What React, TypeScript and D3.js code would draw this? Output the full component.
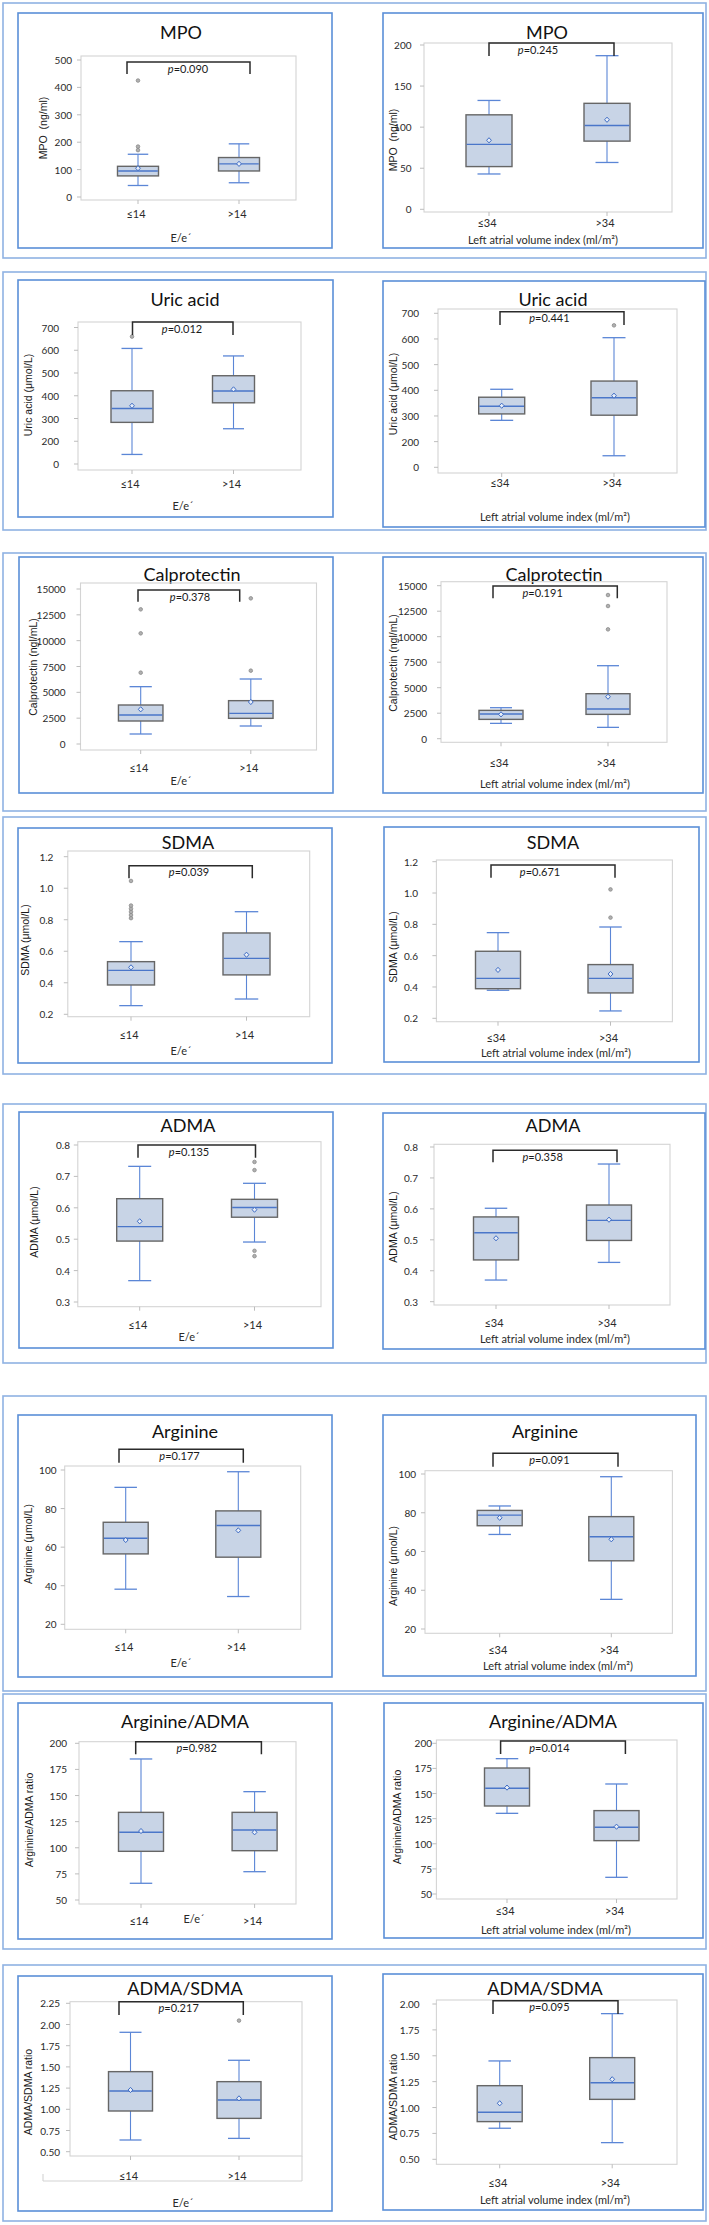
import React from "react";
import * as d3 from "d3";

// ---------------- DATA ----------------
const biomarkers = ["MPO", "Uric acid", "Calprotectin", "SDMA", "ADMA", "Arginine", "Arginine/ADMA", "ADMA/SDMA"];
const yAxisTitles = ["MPO  (ng/ml)", "Uric acid (μmol/L)", "Calprotectin (ngl/mL)", "SDMA (μmol/L)", "ADMA (μmol/L)", "Arginine (μmol/L)", "Arginine/ADMA ratio", "ADMA/SDMA ratio"];
const eeGroups = ["≤14", ">14"];
const laviGroups = ["≤34", ">34"];
const eeAxisTitle = "E/e´";
const laviAxisTitle = "Left atrial volume index (ml/m²)";
const pValuesEE = ["0.090", "0.012", "0.378", "0.039", "0.135", "0.177", "0.982", "0.217"];
const pValuesLAVI = ["0.245", "0.441", "0.191", "0.671", "0.358", "0.091", "0.014", "0.095"];

// box stats: [lower whisker, Q1, median, Q3, upper whisker, mean]
const mpoEE = [[42, 77, 95, 112, 156, 105], [52, 95, 121, 144, 194, 121]];
const mpoEEOut = [[171, 184, 425], []];
const mpoLAVI = [[43, 52, 79, 115, 132.5, 84], [57, 83, 102, 129, 187, 109]];
const mpoLAVIOut = [[], []];

const uricEE = [[142, 283, 344, 422, 608, 356], [255, 369, 421, 488, 575, 428]];
const uricEEOut = [[660], []];
const uricLAVI = [[283, 308, 338, 373, 404, 340], [145, 303, 371, 436, 605, 379]];
const uricLAVIOut = [[], [653]];

const calEE = [[968, 2226, 2806, 3774, 5548, 3355], [1742, 2484, 2968, 4194, 6290, 4065]];
const calEEOut = [[6903, 10710, 13032], [7097, 14097]];
const calLAVI = [[1503, 1895, 2418, 2778, 3039, 2386], [1111, 2386, 2908, 4412, 7157, 4118]];
const calLAVIOut = [[], [10719, 13007, 14085]];

const sdmaEE = [[0.255, 0.386, 0.479, 0.534, 0.661, 0.498], [0.297, 0.45, 0.555, 0.716, 0.851, 0.578]];
const sdmaEEOut = [[0.81, 0.83, 0.85, 0.87, 0.89, 1.046], []];
const sdmaLAVI = [[0.379, 0.389, 0.455, 0.628, 0.747, 0.509], [0.247, 0.362, 0.455, 0.543, 0.783, 0.483]];
const sdmaLAVIOut = [[], [0.843, 1.023]];

const admaEE = [[0.368, 0.494, 0.54, 0.629, 0.732, 0.557], [0.491, 0.57, 0.601, 0.627, 0.678, 0.594]];
const admaEEOut = [[], [0.446, 0.463, 0.72, 0.746]];
const admaLAVI = [[0.37, 0.435, 0.523, 0.574, 0.602, 0.505], [0.427, 0.498, 0.563, 0.6125, 0.745, 0.565]];
const admaLAVIOut = [[], []];

const argEE = [[38.2, 56.5, 64.6, 72.9, 91, 63.7], [34.4, 54.8, 71.2, 78.8, 99.1, 68.7]];
const argEEOut = [[], []];
const argLAVI = [[68.8, 73.3, 78.8, 81.2, 83.5, 77.4], [35.3, 55.2, 67.6, 78, 98.6, 66.3]];
const argLAVIOut = [[], []];

const argAdmaEE = [[66, 96.6, 114.8, 133.9, 185, 116], [77.1, 97.2, 117, 133.9, 153.7, 114.8]];
const argAdmaEEOut = [[], []];
const argAdmaLAVI = [[130.3, 137.6, 155.2, 175.4, 184.7, 155.9], [66.6, 103.1, 116.4, 133, 159.5, 117]];
const argAdmaLAVIOut = [[], []];

const admaSdmaEE = [[0.638, 0.98, 1.216, 1.444, 1.908, 1.228], [0.657, 0.893, 1.11, 1.326, 1.578, 1.129]];
const admaSdmaEEOut = [[], [2.046]];
const admaSdmaLAVI = [[0.8, 0.864, 0.954, 1.211, 1.45, 1.041], [0.661, 1.079, 1.24, 1.482, 1.907, 1.273]];
const admaSdmaLAVIOut = [[], []];

// ticks
const mpoTicksEE = [0, 100, 200, 300, 400, 500];
const mpoTicksLAVI = [0, 50, 100, 150, 200];
const uricTicks = [100, 200, 300, 400, 500, 600, 700];
const uricTickLabels = ["0", "200", "300", "400", "500", "600", "700"]; // as printed in the source
const calTicks = [0, 2500, 5000, 7500, 10000, 12500, 15000];
const sdmaTicks = [0.2, 0.4, 0.6, 0.8, 1.0, 1.2];
const admaTicks = [0.3, 0.4, 0.5, 0.6, 0.7, 0.8];
const argTicks = [20, 40, 60, 80, 100];
const argAdmaTicks = [50, 75, 100, 125, 150, 175, 200];
const admaSdmaTicksEE = [0.5, 0.75, 1.0, 1.25, 1.5, 1.75, 2.0, 2.25];
const admaSdmaTicksLAVI = [0.5, 0.75, 1.0, 1.25, 1.5, 1.75, 2.0];

const fInt = (v: number) => String(v);
const f1 = d3.format(".1f");
const f2 = d3.format(".2f");

const panelData = [
  { b: 0, ee: true, stats: mpoEE, out: mpoEEOut, ticks: mpoTicksEE, labels: mpoTicksEE.map(fInt), p: pValuesEE[0] },
  { b: 0, ee: false, stats: mpoLAVI, out: mpoLAVIOut, ticks: mpoTicksLAVI, labels: mpoTicksLAVI.map(fInt), p: pValuesLAVI[0] },
  { b: 1, ee: true, stats: uricEE, out: uricEEOut, ticks: uricTicks, labels: uricTickLabels, p: pValuesEE[1] },
  { b: 1, ee: false, stats: uricLAVI, out: uricLAVIOut, ticks: uricTicks, labels: uricTickLabels, p: pValuesLAVI[1] },
  { b: 2, ee: true, stats: calEE, out: calEEOut, ticks: calTicks, labels: calTicks.map(fInt), p: pValuesEE[2] },
  { b: 2, ee: false, stats: calLAVI, out: calLAVIOut, ticks: calTicks, labels: calTicks.map(fInt), p: pValuesLAVI[2] },
  { b: 3, ee: true, stats: sdmaEE, out: sdmaEEOut, ticks: sdmaTicks, labels: sdmaTicks.map(f1), p: pValuesEE[3] },
  { b: 3, ee: false, stats: sdmaLAVI, out: sdmaLAVIOut, ticks: sdmaTicks, labels: sdmaTicks.map(f1), p: pValuesLAVI[3] },
  { b: 4, ee: true, stats: admaEE, out: admaEEOut, ticks: admaTicks, labels: admaTicks.map(f1), p: pValuesEE[4] },
  { b: 4, ee: false, stats: admaLAVI, out: admaLAVIOut, ticks: admaTicks, labels: admaTicks.map(f1), p: pValuesLAVI[4] },
  { b: 5, ee: true, stats: argEE, out: argEEOut, ticks: argTicks, labels: argTicks.map(fInt), p: pValuesEE[5] },
  { b: 5, ee: false, stats: argLAVI, out: argLAVIOut, ticks: argTicks, labels: argTicks.map(fInt), p: pValuesLAVI[5] },
  { b: 6, ee: true, stats: argAdmaEE, out: argAdmaEEOut, ticks: argAdmaTicks, labels: argAdmaTicks.map(fInt), p: pValuesEE[6] },
  { b: 6, ee: false, stats: argAdmaLAVI, out: argAdmaLAVIOut, ticks: argAdmaTicks, labels: argAdmaTicks.map(fInt), p: pValuesLAVI[6] },
  { b: 7, ee: true, stats: admaSdmaEE, out: admaSdmaEEOut, ticks: admaSdmaTicksEE, labels: admaSdmaTicksEE.map(f2), p: pValuesEE[7] },
  { b: 7, ee: false, stats: admaSdmaLAVI, out: admaSdmaLAVIOut, ticks: admaSdmaTicksLAVI, labels: admaSdmaTicksLAVI.map(f2), p: pValuesLAVI[7] },
];

// ---------------- LAYOUT ----------------
const W = 709;
const H = 2225;
const rowBoxes = [[3, 258], [272, 530], [553, 811], [817, 1074], [1104, 1363], [1396, 1691], [1694, 1949], [1965, 2221]];

type Layout = {
  box: number[]; frame: number[]; yPix: number[]; cx: number[]; bw: number;
  br: number[]; pX: number; title: number[]; catY: number; xt: number[]; yt: number[]; tickX: number;
};

const layouts: Layout[] = [
  { box: [18, 13, 332, 248], frame: [81, 56, 296, 200], yPix: [197, 60], cx: [138, 239], bw: 41, br: [127, 250, 62, 74], pX: 188, title: [181, 32], catY: 213, xt: [181, 237], yt: [43, 128], tickX: 72 },
  { box: [383, 13, 703, 248], frame: [424, 43, 672, 212], yPix: [209.3, 45], cx: [489, 607], bw: 46, br: [489, 614, 43, 56], pX: 538, title: [547, 32], catY: 222, xt: [543, 239], yt: [393, 140], tickX: 411.5 },
  { box: [18, 280, 333, 517], frame: [78, 322, 301, 470], yPix: [464, 327.5], cx: [132, 233.5], bw: 42, br: [132.5, 233, 322, 335], pX: 182, title: [185, 299], catY: 483, xt: [183, 505], yt: [28, 395], tickX: 59 },
  { box: [383, 281, 705, 527], frame: [438, 309, 677, 473], yPix: [467.3, 313.3], cx: [501.7, 614], bw: 46, br: [500, 624, 311.7, 325], pX: 549.4, title: [553, 299], catY: 482, xt: [555, 516], yt: [392.5, 394], tickX: 419 },
  { box: [19, 557, 333, 793], frame: [80.5, 583, 316.5, 750], yPix: [744, 589], cx: [140.7, 250.8], bw: 44.5, br: [138, 239.7, 590, 601.7], pX: 190, title: [192, 574], catY: 767, xt: [181, 780], yt: [32.5, 667], tickX: 65.6 },
  { box: [383, 557, 703, 793], frame: [441, 581.7, 667, 742.3], yPix: [738.7, 585.7], cx: [501, 608], bw: 44, br: [493, 617.3, 586, 598.3], pX: 542.6, title: [554, 574], catY: 762, xt: [555, 783], yt: [393.4, 663], tickX: 427 },
  { box: [18, 828, 332, 1063], frame: [67.8, 851, 309.7, 1016.7], yPix: [1014.3, 856.7], cx: [131, 246.5], bw: 47, br: [129, 252.3, 865.7, 878.3], pX: 189, title: [188, 842], catY: 1034, xt: [181, 1050], yt: [25, 940], tickX: 53.4 },
  { box: [384, 827, 699, 1062], frame: [436.4, 860, 672.4, 1021.7], yPix: [1018.3, 861.7], cx: [498, 610.5], bw: 45, br: [491, 615, 865, 877.7], pX: 540, title: [553, 842], catY: 1037, xt: [556, 1052], yt: [392.5, 947], tickX: 418 },
  { box: [19, 1112, 333, 1348], frame: [77.8, 1141.7, 321, 1306.7], yPix: [1302, 1145], cx: [139.7, 254.5], bw: 46, br: [138, 255.5, 1145, 1157.7], pX: 189, title: [188, 1125], catY: 1324, xt: [189, 1336], yt: [34, 1222], tickX: 70 },
  { box: [383, 1113, 705, 1349], frame: [434, 1144.3, 670, 1305], yPix: [1301.7, 1147], cx: [496, 609], bw: 45, br: [493, 617, 1150.3, 1162.3], pX: 542.6, title: [553, 1125], catY: 1322, xt: [555, 1338], yt: [393.4, 1227], tickX: 418 },
  { box: [18, 1415, 332, 1677], frame: [64.7, 1466, 300.7, 1629.3], yPix: [1624.3, 1470], cx: [125.7, 238.3], bw: 45, br: [119, 243.3, 1449.3, 1462.7], pX: 179.5, title: [185, 1431], catY: 1646, xt: [181, 1662], yt: [28, 1544], tickX: 56.5 },
  { box: [383, 1415, 696, 1676], frame: [425, 1470.7, 672.4, 1633.3], yPix: [1629, 1474], cx: [499.7, 611.3], bw: 45, br: [493, 618, 1453.3, 1466.7], pX: 549.4, title: [545, 1431], catY: 1649, xt: [558, 1665], yt: [393.4, 1566], tickX: 416 },
  { box: [18, 1703, 332, 1939], frame: [79, 1741.7, 296, 1904], yPix: [1900, 1743.3], cx: [141, 254.6], bw: 45, br: [135.7, 261.4, 1741.7, 1754.3], pX: 196.7, title: [185, 1721], catY: 1920, xt: [194, 1918], yt: [29.4, 1820], tickX: 67 },
  { box: [384, 1703, 703, 1938], frame: [436.4, 1740, 677, 1899], yPix: [1894, 1743.3], cx: [507, 616.5], bw: 45, br: [500.6, 625.4, 1741, 1754], pX: 549.4, title: [553, 1721], catY: 1910, xt: [556, 1929], yt: [397, 1817], tickX: 432 },
  { box: [18, 1976, 332, 2211], frame: [70, 2001.7, 302, 2156], yPix: [2151.7, 2003.3], cx: [130.5, 239], bw: 44, br: [119, 243.3, 2001.7, 2015], pX: 178.6, title: [185, 1988], catY: 2175, xt: [183, 2202], yt: [28, 2092], tickX: 60 },
  { box: [383, 1974, 703, 2210], frame: [436.4, 2000, 677, 2164.3], yPix: [2159.3, 2004], cx: [499.7, 612.2], bw: 45, br: [493, 618, 2000.7, 2014], pX: 549.4, title: [545, 1988], catY: 2182, xt: [555, 2199], yt: [393.4, 2097], tickX: 419.6 },
];

// ---------------- STYLE ----------------
const FONT = "Lato, 'Open Sans', sans-serif";
const YFONT = "'Liberation Sans', Arial, sans-serif";
const C = {
  outer: "#8fb2e3", panel: "#5b8fd8", frame: "#d4d4d4", boxFill: "#c8d4e6", boxStroke: "#666",
  whisker: "#5b86d6", median: "#4a76c9", mean: "#3e6cc4", outlier: "#8a8a8a", bracket: "#2b2b2b", text: "#222",
};

function Panel({ d, L }: { d: (typeof panelData)[number]; L: Layout }) {
  const t = d.ticks;
  const y = d3.scaleLinear().domain([t[0], t[t.length - 1]]).range(L.yPix);
  const [fx0, fy0, fx1, fy1] = L.frame;
  const groups = d.ee ? eeGroups : laviGroups;
  const xTitle = d.ee ? eeAxisTitle : laviAxisTitle;
  const [bx0, bx1, bTop, bLeg] = L.br;
  const isLastLeft = d.b === 7 && d.ee;
  return (
    <g>
      <rect x={L.box[0]} y={L.box[1]} width={L.box[2] - L.box[0]} height={L.box[3] - L.box[1]} fill="#fff" stroke={C.panel} strokeWidth={1.6} />
      <text x={L.title[0]} y={L.title[1]} textAnchor="middle" dominantBaseline="central" fontFamily={FONT} fontWeight={400} fontSize={18} fill="#111">{biomarkers[d.b]}</text>
      {/* plot frame */}
      <rect x={fx0} y={fy0} width={fx1 - fx0} height={fy1 - fy0} fill="none" stroke={C.frame} strokeWidth={1.1} />
      {isLastLeft && (
        <g stroke={C.frame} strokeWidth={1.1} fill="none">
          <line x1={fx1} y1={fy1} x2={fx1} y2={2181} />
          <line x1={43} y1={2181} x2={fx1} y2={2181} />
          <line x1={43} y1={2174} x2={43} y2={2181} />
        </g>
      )}
      {/* y ticks */}
      {t.map((v, i) => (
        <g key={"t" + i}>
          <line x1={fx0 - 4} x2={fx0} y1={y(v)} y2={y(v)} stroke="#bdbdbd" strokeWidth={1} />
          <text x={L.tickX} y={y(v)} textAnchor="end" dominantBaseline="central" fontFamily={FONT} fontSize={10} fill="#2a2a2a">{d.labels[i]}</text>
        </g>
      ))}
      {/* x ticks & labels */}
      {groups.map((g, i) => (
        <g key={"c" + i}>
          <line x1={L.cx[i]} x2={L.cx[i]} y1={fy1} y2={fy1 + 4} stroke="#bdbdbd" strokeWidth={1} />
          <text x={L.cx[i] - 2} y={L.catY} textAnchor="middle" dominantBaseline="central" fontFamily={FONT} fontSize={11} fill="#2a2a2a">{g}</text>
        </g>
      ))}
      <text x={L.xt[0]} y={L.xt[1]} textAnchor="middle" dominantBaseline="central" fontFamily={FONT} fontSize={11} fill="#2a2a2a">{xTitle}</text>
      <text transform={`translate(${L.yt[0]},${L.yt[1]}) rotate(-90)`} textAnchor="middle" dominantBaseline="central" fontFamily={YFONT} fontSize={10.5} fill="#1a1a1a" style={{ whiteSpace: "pre" }}>{yAxisTitles[d.b]}</text>
      {/* boxes */}
      {d.stats.map((s, i) => {
        const cx = L.cx[i];
        const w = L.bw;
        const cap = w * 0.25;
        const m = y(s[5]);
        return (
          <g key={"b" + i}>
            <line x1={cx} x2={cx} y1={y(s[0])} y2={y(s[1])} stroke={C.whisker} strokeWidth={1.1} />
            <line x1={cx} x2={cx} y1={y(s[3])} y2={y(s[4])} stroke={C.whisker} strokeWidth={1.1} />
            <line x1={cx - cap} x2={cx + cap} y1={y(s[0])} y2={y(s[0])} stroke={C.whisker} strokeWidth={1.3} />
            <line x1={cx - cap} x2={cx + cap} y1={y(s[4])} y2={y(s[4])} stroke={C.whisker} strokeWidth={1.3} />
            <rect x={cx - w / 2} y={y(s[3])} width={w} height={y(s[1]) - y(s[3])} fill={C.boxFill} stroke={C.boxStroke} strokeWidth={1.4} />
            <line x1={cx - w / 2 + 0.7} x2={cx + w / 2 - 0.7} y1={y(s[2])} y2={y(s[2])} stroke={C.median} strokeWidth={1.4} />
            <path d={`M${cx},${m - 2.6}L${cx + 2.4},${m}L${cx},${m + 2.6}L${cx - 2.4},${m}Z`} fill="#e8eef8" stroke={C.mean} strokeWidth={1} />
            {d.out[i].map((o, k) => (
              <circle key={k} cx={cx} cy={y(o)} r={1.8} fill="#b0b0b0" stroke={C.outlier} strokeWidth={0.8} />
            ))}
          </g>
        );
      })}
      {/* significance bracket */}
      <path d={`M${bx0},${bLeg}V${bTop}H${bx1}V${bLeg}`} fill="none" stroke={C.bracket} strokeWidth={1.5} />
      <text x={L.pX} y={bTop + 10.5} textAnchor="middle" fontFamily={FONT} fontSize={11} fill="#1a1a1a">
        <tspan fontStyle="italic">p</tspan>={d.p}
      </text>
    </g>
  );
}

export default function App() {
  return (
    <svg width={W} height={H} viewBox={`0 0 ${W} ${H}`} style={{ position: "absolute", left: 0, top: 0, background: "#fff" }}>
      <rect x={0} y={0} width={W} height={H} fill="#fff" />
      {rowBoxes.map((r, i) => (
        <rect key={i} x={3} y={r[0]} width={703} height={r[1] - r[0]} fill="none" stroke={C.outer} strokeWidth={1.6} />
      ))}
      {panelData.map((d, i) => (
        <Panel key={i} d={d} L={layouts[i]} />
      ))}
    </svg>
  );
}
